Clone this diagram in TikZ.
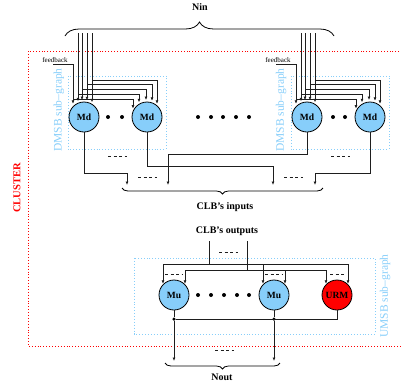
\documentclass[tikz,border=0pt]{standalone}
\usepackage{fontspec}
\setmainfont{Liberation Serif}
\usetikzlibrary{calc,arrows.meta,decorations.pathreplacing}
\definecolor{ltblue}{RGB}{135,206,250}
\definecolor{wirec}{RGB}{30,30,30}
\begin{document}
\begin{tikzpicture}[x=1pt,y=-1pt,
  wire/.style={draw=wirec,line width=0.8pt},
  arr/.style={wire,-{Latex[length=3.5pt,width=3pt]}},
  unit/.style={circle,draw=black,line width=0.8pt,fill=ltblue,minimum size=30pt,inner sep=0pt,font=\fontsize{9.5}{10}\selectfont\bfseries},
  urmstyle/.style={unit,fill=red},
  subbox/.style={draw=ltblue,dotted,line width=0.9pt},
  sublabel/.style={text=ltblue,rotate=90,font=\fontsize{11.5}{12}\selectfont},
  bigdot/.style={circle,fill=black,inner sep=0pt,minimum size=4pt},
  jdot/.style={circle,fill=black,inner sep=0pt,minimum size=3.5pt},
  dashes/.style={draw=wirec,line width=0.8pt,dash pattern=on 3pt off 2.5pt},
  curly/.style={decorate,decoration={brace,amplitude=#1},draw=black,line width=0.8pt},
  lab/.style={font=\fontsize{10}{12}\selectfont\bfseries}
]
\useasboundingbox (0,0) rectangle (401,381);

% cluster
\draw[red,dotted,line width=0.9pt] (402,51) -- (28,51) -- (28,346) -- (402,346);
\node[text=red,rotate=90,font=\fontsize{10.5}{12}\selectfont\bfseries] (cl) at (17,188) {CLUSTER};

% sub-graph boxes
\draw[subbox] (68,76) rectangle (166,149);
\draw[subbox] (291,76) rectangle (389,149);
\draw[subbox] (134,258) rectangle (375,334);
\node[sublabel] (dl1) at (59,110) {DMSB sub–graph};
\node[sublabel] (dl2) at (281,110) {DMSB sub–graph};
\node[sublabel] (ul) at (385,296) {UMSB sub–graph};

% units
\node[unit] (md1) at (84,117) {Md};
\node[unit] (md2) at (147,117) {Md};
\node[unit] (md3) at (307,117) {Md};
\node[unit] (md4) at (370,117) {Md};
\node[unit] (mu1) at (174,295) {Mu};
\node[unit] (mu2) at (274,295) {Mu};
\node[urmstyle] (urm) at (337,295) {URM};

% dots
\foreach \x in {108,122,333,345,198,211,223,236,249}{\node[bigdot] at (\x,117) {};}
\foreach \x in {198,211,224,237,249}{\node[bigdot] at (\x,295) {};}

% Nin brace
\draw[curly=14pt] (65,36) -- (334,36);
\node[lab] (nin) at (200,7) {Nin};

% input wiring
\foreach \g/\a/\b in {0/md1/md2,223/md3/md4}{
  \node[font=\fontsize{7}{8}\selectfont] (fb\a) at (\g+55,60) {feedback};
  \draw[arr] (\g+53,64) -| ($(\a)+(-11,{-sqrt(104)-3})$);
  \draw[arr] ($(\a)+(-11,-18)$) -| ($(\b)+(-14,{-sqrt(29)-3})$);
  \foreach \d/\e/\lv in {-6/-8/-23,-2/-1/-28,3/5/-33,8/10/-37}{
    \draw[arr] ($(\a)+(\d,-84)$) -- ($(\a)+(\d,{-sqrt(225-(\d)*(\d))-2})$);
    \draw[arr] ($(\a)+(\d,\lv)$) -| ($(\b)+(\e,{-sqrt(225-(\e)*(\e))-2})$);
  }
}

% outputs of Md to CLB inputs
\draw[arr] (md1.south) -- ++(0,41) -| (127,185);
\draw[arr] (md2.south) -- ++(0,34) -| (273,185);
\draw[arr] (md3.south) -- ++(0,22) -| (168,185);
\draw[arr] (md4.south) -- ++(0,41) -| (315,185);
\draw[dashes] (108,156) -- ++(19,0);
\draw[dashes] (331,156) -- ++(19,0);
\draw[dashes] (138,177) -- ++(19,0);
\draw[dashes] (284,177) -- ++(19,0);

\draw[curly=6pt] (323,188) -- (122,188);
\node[lab] (clbin) at (225,207) {CLB’s inputs};
\node[lab] (clbout) at (227,231) {CLB’s outputs};

% CLB outputs to Mu / URM
\draw[wire] (209,241) -- (209,264);
\draw[wire] (247,241) -- (247,270);
\draw[dashes] (219,252) -- ++(19,0);
\draw[arr] (209,264) -| ($(mu1)+(-11,{-sqrt(104)-1})$);
\draw[arr] (209,264) -| ($(mu2)+(-11,{-sqrt(104)-1})$);
\draw[arr] (209,264) -| ($(urm)+(11,{-sqrt(104)-1})$);
\draw[arr] (247,270) -| ($(mu1)+(11,{-sqrt(104)-1})$);
\draw[arr] (247,270) -| ($(mu2)+(11,{-sqrt(104)-1})$);
\draw[arr] (247,270) -| ($(urm)+(-11,{-sqrt(104)-1})$);
\draw[dashes] (165,274) -- ++(18,0);
\draw[dashes] (265,274) -- ++(18,0);
\draw[dashes] (330,274) -- ++(15,0);

% outputs
\node[jdot] (j1) at (174,319) {};
\node[jdot] (j2) at (274,319) {};
\draw[wire] (mu1.south) -- (j1);
\draw[wire] (mu2.south) -- (j2);
\draw[wire] (urm.south) |- (j1);
\draw[arr] (j1) -- (174,361);
\draw[arr] (j2) -- (274,361);
\draw[dashes] (215,350) -- ++(19,0);
\draw[curly=6pt] (280,363) -- (165,363);
\node[lab] (nout) at (222,377) {Nout};
\end{tikzpicture}
\end{document}
